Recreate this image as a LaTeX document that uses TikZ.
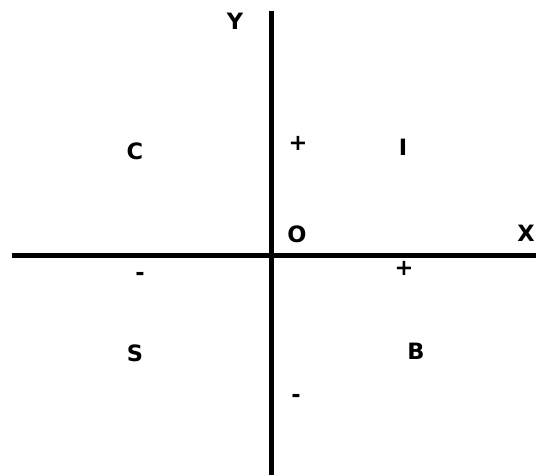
\documentclass[tikz,border=0pt]{standalone}
\usepackage{fontspec}
\setmainfont{DejaVu Sans}
\begin{document}
\begin{tikzpicture}[x=1pt,y=1pt,
  axis/.style={line width=5pt,black},
  lbl/.style={font=\bfseries\fontsize{22.5}{24}\selectfont,inner sep=0pt,anchor=center}]
\useasboundingbox (0,0) rectangle (536,475);
\coordinate (ytop) at (271,464);
\coordinate (ybot) at (271,0);
\coordinate (xl) at (12,220);
\coordinate (xr) at (536,220);
\draw[axis] (ytop) -- (ybot);
\draw[axis] (xl) -- (xr);
\node[lbl] (Y) at (235,454) {Y};
\node[lbl] (X) at (526,242) {X};
\node[lbl] (O) at (297,241) {O};
\node[lbl] (C) at (135,324) {C};
\node[lbl] (I) at (403,328) {I};
\node[lbl] (S) at (135,122) {S};
\node[lbl] (B) at (416,124) {B};
\node[lbl] (p1) at (298,332) {+};
\node[lbl] (p2) at (404,207) {+};
\node[lbl] (m1) at (140,199) {-};
\node[lbl] (m2) at (296,77) {-};
\end{tikzpicture}
\end{document}
